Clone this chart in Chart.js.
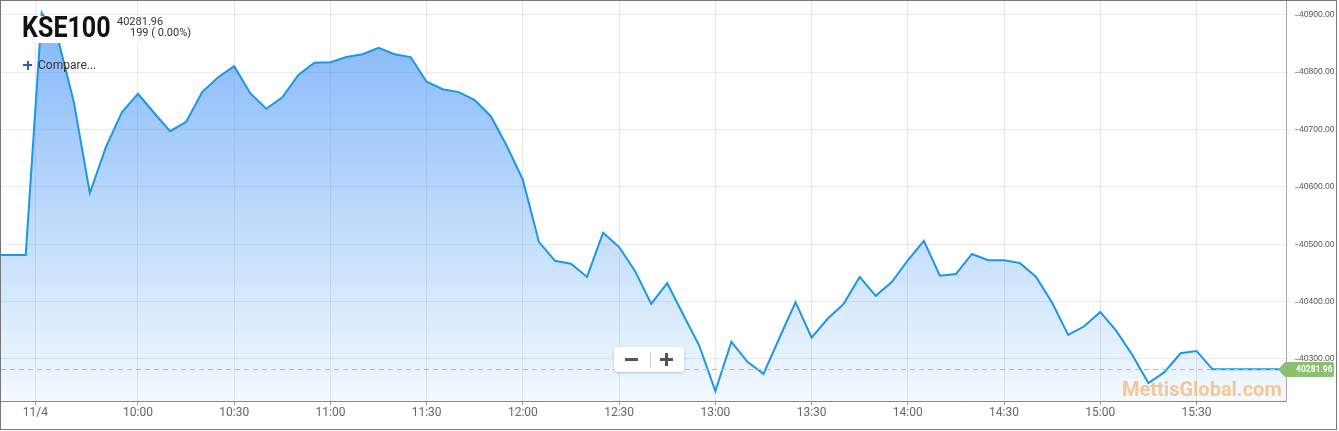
<!DOCTYPE html>
<html>
<head>
<meta charset="utf-8">
<script src="https://cdn.jsdelivr.net/npm/chart.js@4.4.0/dist/chart.umd.min.js"></script>
<style>
  html, body { margin: 0; padding: 0; background: #fff; }
  #wrap { position: relative; width: 1339px; height: 431px; overflow: hidden; font-family: Roboto, "Noto Sans", sans-serif; }
  #chart { position: absolute; left: 0; top: 0; }
  #frame { position: absolute; left: 0; top: 0; width: 1337px; height: 430px; box-sizing: border-box; border: 1px solid #777; pointer-events: none; }
  #titleBox { position: absolute; left: 12px; top: 16px; width: 188px; height: 27px; background: #fff; }
  .txt { position: absolute; line-height: 1; white-space: nowrap; }
  #symbol { left: 22px; top: 13px; font-size: 29.5px; font-weight: 700; color: #111; transform: scaleX(0.85); transform-origin: left top; }
  #last { left: 117px; top: 15.6px; font-size: 11px; color: #333; }
  #change { left: 130px; top: 27px; font-size: 11px; color: #333; }
  #compare { left: 38px; top: 59.4px; font-size: 12px; color: #333; }
  .bar { position: absolute; background: #2a5bd7; }
  #zoomBox { position: absolute; left: 614px; top: 347px; width: 70px; height: 25px; background: #fff; border-radius: 4px; box-shadow: 0 1px 3px rgba(0,0,0,0.22); }
  .zb { position: absolute; background: #555; }
  #watermark { left: 1122px; top: 379px; font-size: 20px; font-weight: 700; color: rgba(243,178,105,0.7); }
</style>
</head>
<body>
<div id="wrap">
  <canvas id="chart" width="1339" height="431"></canvas>
  <div id="titleBox"></div>
  <div class="txt" id="symbol">KSE100</div>
  <div class="txt" id="last">40281.96</div>
  <div class="txt" id="change">199 ( 0.00%)</div>
  <div class="bar" style="left:23px;top:64px;width:9px;height:2px;"></div>
  <div class="bar" style="left:26.5px;top:60.5px;width:2px;height:9px;"></div>
  <div class="txt" id="compare">Compare...</div>
  <div id="zoomBox">
    <div class="zb" style="left:11px;top:11px;width:13px;height:3px;"></div>
    <div style="position:absolute;left:36px;top:5px;width:1px;height:15px;background:#ccc;"></div>
    <div class="zb" style="left:46px;top:11px;width:13px;height:3px;"></div>
    <div class="zb" style="left:51px;top:6px;width:3px;height:13px;"></div>
  </div>
  <div class="txt" id="watermark">MettisGlobal.com</div>
  <div id="frame"></div>
</div>
<script>
const times = [
  "09:15", "09:20", "09:25", "09:30", "09:35", "09:40", "09:45", "09:50", "09:55",
  "10:00", "10:05", "10:10", "10:15", "10:20", "10:25", "10:30", "10:35", "10:40", "10:45", "10:50", "10:55",
  "11:00", "11:05", "11:10", "11:15", "11:20", "11:25", "11:30", "11:35", "11:40", "11:45", "11:50", "11:55",
  "12:00", "12:05", "12:10", "12:15", "12:20", "12:25", "12:30", "12:35", "12:40", "12:45", "12:50", "12:55",
  "13:00", "13:05", "13:10", "13:15", "13:20", "13:25", "13:30", "13:35", "13:40", "13:45", "13:50", "13:55",
  "14:00", "14:05", "14:10", "14:15", "14:20", "14:25", "14:30", "14:35", "14:40", "14:45", "14:50", "14:55",
  "15:00", "15:05", "15:10", "15:15", "15:20", "15:25", "15:30", "15:35", "15:40", "15:45", "15:50", "15:55",
  "16:00"
];
const values = [
  40481, 40481, 40481, 40903, 40859, 40748, 40589, 40669, 40730,
  40762, 40729, 40697, 40713, 40765, 40791, 40810, 40763, 40736, 40756, 40795, 40816,
  40817, 40826, 40831, 40842, 40831, 40826, 40783, 40770, 40765, 40751, 40723, 40671,
  40612, 40504, 40471, 40466, 40443, 40520, 40495, 40453, 40396, 40432, 40377, 40323,
  40244, 40330, 40295, 40274, 40337, 40399, 40337, 40370, 40396, 40443, 40410, 40434,
  40472, 40506, 40445, 40448, 40483, 40472, 40472, 40467, 40443, 40398, 40342, 40357,
  40382, 40349, 40307, 40258, 40277, 40310, 40314, 40281.96, 40281.96, 40281.96, 40281.96, 40281.96,
  40281.96
];
const lastPrice = 40281.96;

const xTickTimes = ["09:28", "10:00", "10:30", "11:00", "11:30", "12:00", "12:30", "13:00", "13:30", "14:00", "14:30", "15:00", "15:30"];
const xTickLabels = ["11/4", "10:00", "10:30", "11:00", "11:30", "12:00", "12:30", "13:00", "13:30", "14:00", "14:30", "15:00", "15:30"];
const yTicks = [40300, 40400, 40500, 40600, 40700, 40800, 40900];

function toMin(t) {
  const p = t.split(":");
  return parseInt(p[0]) * 60 + parseInt(p[1]);
}

const points = times.map((t, i) => ({ x: toMin(t), y: values[i] }));

Chart.defaults.font.family = "Roboto, 'Noto Sans', sans-serif";

// dashed last-price line, green price tag, y tick dashes
const overlay = {
  id: "overlay",
  afterDraw(chart) {
    const c = chart.ctx;
    const area = chart.chartArea;
    const ys = chart.scales.y;
    const py = Math.round(ys.getPixelForValue(lastPrice)) + 0.5;

    c.save();
    c.strokeStyle = "#a9c2b6";
    c.lineWidth = 1;
    c.setLineDash([5, 4]);
    c.beginPath();
    c.moveTo(area.left, py);
    c.lineTo(area.right, py);
    c.stroke();
    c.setLineDash([]);

    c.strokeStyle = "#999";
    yTicks.forEach((v) => {
      const y = Math.round(ys.getPixelForValue(v)) + 0.5;
      c.beginPath();
      c.moveTo(1295, y);
      c.lineTo(1298.5, y);
      c.stroke();
    });

    c.fillStyle = "#8bbf72";
    c.beginPath();
    c.moveTo(1278, py);
    c.lineTo(1285, py - 7.5);
    c.lineTo(1332, py - 7.5);
    c.quadraticCurveTo(1334, py - 7.5, 1334, py - 5.5);
    c.lineTo(1334, py + 5.5);
    c.quadraticCurveTo(1334, py + 7.5, 1332, py + 7.5);
    c.lineTo(1285, py + 7.5);
    c.closePath();
    c.fill();

    c.fillStyle = "#fff";
    c.font = "bold 8.5px Roboto";
    c.textAlign = "left";
    c.textBaseline = "middle";
    c.fillText("40281.96", 1296, py + 0.5);
    c.restore();
  }
};

new Chart(document.getElementById("chart"), {
  type: "line",
  data: {
    datasets: [
      {
        data: points,
        borderColor: "#1c96e8",
        borderWidth: 2,
        pointRadius: 0,
        tension: 0,
        fill: "start",
        backgroundColor: (ctx) => {
          const area = ctx.chart.chartArea;
          if (!area) return "rgba(60,140,245,0.3)";
          const g = ctx.chart.ctx.createLinearGradient(0, area.top, 0, area.bottom);
          g.addColorStop(0, "rgba(60,140,245,0.66)");
          g.addColorStop(1, "rgba(60,150,245,0.06)");
          return g;
        },
      },
    ],
  },
  options: {
    responsive: false,
    animation: false,
    devicePixelRatio: 1,
    layout: { padding: { left: 1, top: 1, right: 0, bottom: 0 } },
    plugins: { legend: { display: false }, tooltip: { enabled: false } },
    scales: {
      x: {
        type: "linear",
        min: 557.3,
        max: 957.9,
        afterBuildTicks: (scale) => {
          scale.ticks = xTickTimes.map((t) => ({ value: toMin(t) }));
        },
        afterFit: (scale) => {
          scale.height = 30;
          scale.paddingLeft = 0;
          scale.paddingRight = 0;
        },
        ticks: {
          autoSkip: false,
          maxRotation: 0,
          includeBounds: false,
          padding: 1,
          color: "#666",
          font: { size: 12 },
          callback: (v, i) => xTickLabels[i],
        },
        grid: { color: "rgba(0,0,0,0.09)", tickLength: 4, tickColor: "#999" },
        border: { display: true, color: "#888" },
      },
      y: {
        position: "right",
        min: 40226.8,
        max: 40923.7,
        afterBuildTicks: (scale) => {
          scale.ticks = yTicks.map((v) => ({ value: v }));
        },
        afterFit: (scale) => {
          scale.width = 53;
          scale.paddingTop = 0;
          scale.paddingBottom = 0;
        },
        ticks: {
          includeBounds: false,
          padding: 13,
          color: "#555",
          font: { size: 8.5, family: "'Liberation Sans', Arial, sans-serif" },
          callback: (v) => v.toFixed(2),
        },
        grid: { color: "rgba(0,0,0,0.08)", drawTicks: false },
        border: { display: true, color: "#aaa" },
      },
    },
  },
  plugins: [overlay],
});
</script>
</body>
</html>
